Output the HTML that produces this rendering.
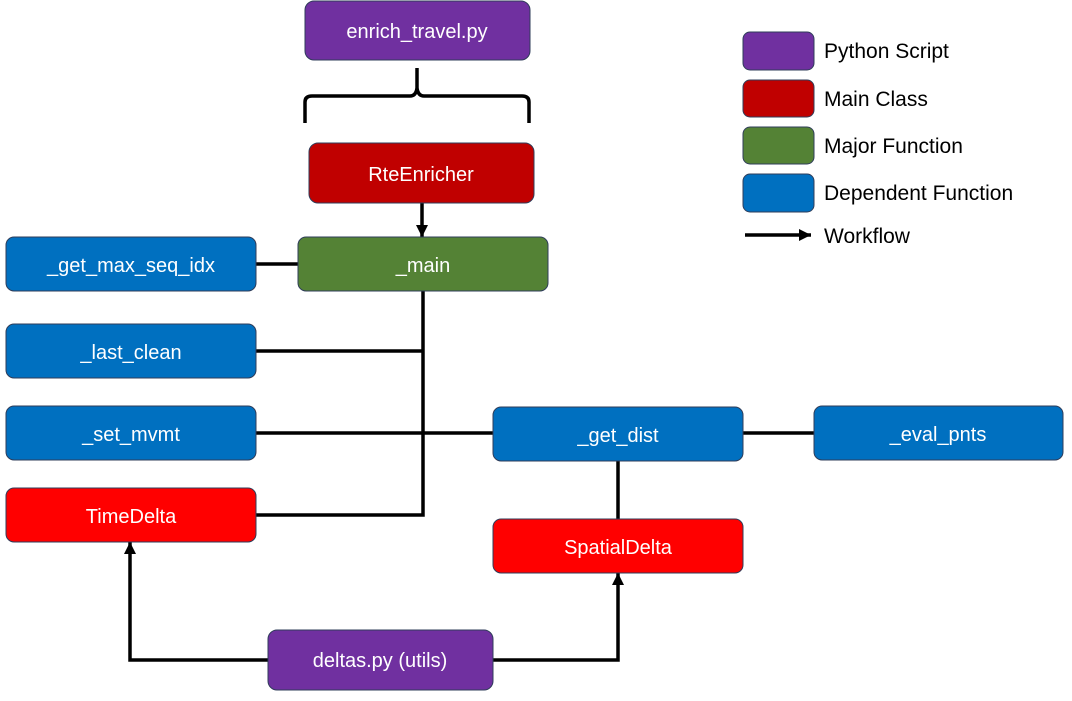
<!DOCTYPE html>
<html><head><meta charset="utf-8"><style>
html,body{margin:0;padding:0;background:#fff;}
svg text{font-family:"Liberation Sans",sans-serif;}
</style></head><body>
<svg width="1072" height="696" viewBox="0 0 1072 696" xmlns="http://www.w3.org/2000/svg">
<defs>
<marker id="b" markerWidth="12" markerHeight="12" refX="12" refY="6" orient="auto" markerUnits="userSpaceOnUse"><path d="M0,0 L12,6 L0,12 z" fill="#000"/></marker></defs>
<g stroke="#000" stroke-width="3.5" fill="none">
<path d="M423,291 V515 H256"/>
<path d="M256,351 H423"/>
<path d="M256,264 H298"/>
<path d="M256,433 H493"/>
<path d="M743,433 H814"/>
<path d="M618,461 V519"/>
<path d="M422,203 V237" marker-end="url(#b)"/>
<path d="M268,660 H130 V542" marker-end="url(#b)"/>
<path d="M493,660 H618 V573" marker-end="url(#b)"/>
<path d="M745,235 H811" marker-end="url(#b)"/>
<path d="M305,123 V102 Q305,96 312,96 H410 Q416,96 417,88 V68 M417,88 Q418,96 424,96 H522 Q529,96 529,102 V123"/>
</g>
<g stroke="#2f3d5a" stroke-width="1">
<rect x="305" y="1" width="225" height="59" rx="9" fill="#7030A0"/>
<rect x="309" y="143" width="225" height="60" rx="9" fill="#C00000"/>
<rect x="298" y="237" width="250" height="54" rx="8" fill="#548235"/>
<rect x="6" y="237" width="250" height="54" rx="8" fill="#0070C0"/>
<rect x="6" y="324" width="250" height="54" rx="8" fill="#0070C0"/>
<rect x="6" y="406" width="250" height="54" rx="8" fill="#0070C0"/>
<rect x="6" y="488" width="250" height="54" rx="8" fill="#FF0000"/>
<rect x="493" y="407" width="250" height="54" rx="8" fill="#0070C0"/>
<rect x="814" y="406" width="249" height="54" rx="8" fill="#0070C0"/>
<rect x="493" y="519" width="250" height="54" rx="8" fill="#FF0000"/>
<rect x="268" y="630" width="225" height="60" rx="9" fill="#7030A0"/>
<rect x="743" y="32" width="71" height="38" rx="7" fill="#7030A0"/>
<rect x="743" y="80" width="71" height="37" rx="7" fill="#C00000"/>
<rect x="743" y="127" width="71" height="37" rx="7" fill="#548235"/>
<rect x="743" y="174" width="71" height="38" rx="7" fill="#0070C0"/>
</g>
<g fill="#fff" font-size="20" text-anchor="middle">
<text x="417" y="38">enrich_travel.py</text>
<text x="421" y="181">RteEnricher</text>
<text x="423" y="272">_main</text>
<text x="131" y="272">_get_max_seq_idx</text>
<text x="131" y="359">_last_clean</text>
<text x="131" y="441">_set_mvmt</text>
<text x="131" y="523">TimeDelta</text>
<text x="618" y="442">_get_dist</text>
<text x="938" y="441">_eval_pnts</text>
<text x="618" y="554">SpatialDelta</text>
<text x="380" y="667">deltas.py (utils)</text>
</g>
<g fill="#000" font-size="21">
<text x="824" y="58">Python Script</text>
<text x="824" y="106">Main Class</text>
<text x="824" y="153">Major Function</text>
<text x="824" y="200">Dependent Function</text>
<text x="824" y="243">Workflow</text>
</g>
</svg>
</body></html>
